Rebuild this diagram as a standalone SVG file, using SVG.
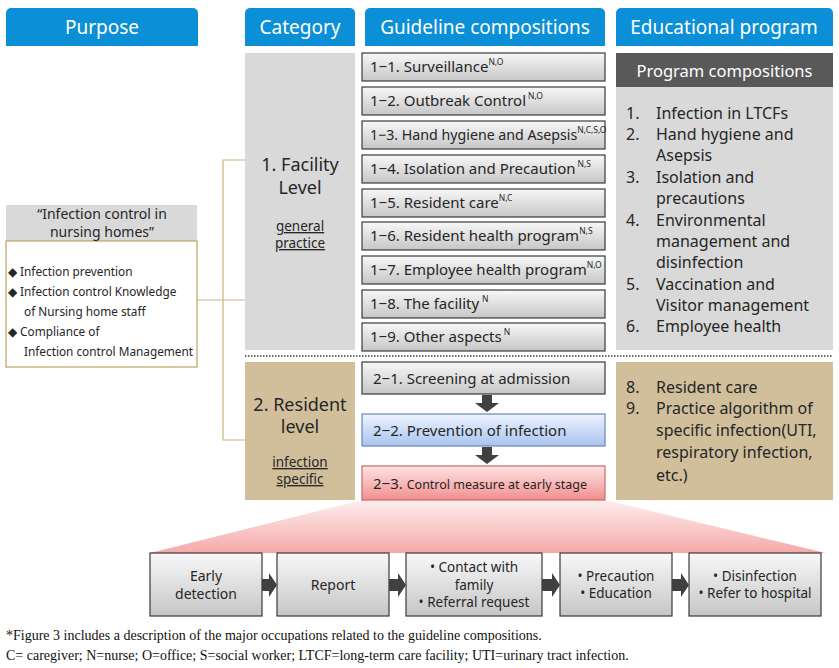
<svg xmlns="http://www.w3.org/2000/svg" width="839" height="668" viewBox="0 0 839 668">
<defs>
<linearGradient id="gGray" x1="0" y1="0" x2="0" y2="1"><stop offset="0" stop-color="#f8f8f8"/><stop offset="1" stop-color="#c6c6c6"/></linearGradient>
<linearGradient id="gBlue" x1="0" y1="0" x2="0" y2="1"><stop offset="0" stop-color="#eef3ff"/><stop offset="1" stop-color="#a9c3ee"/></linearGradient>
<linearGradient id="gPink" x1="0" y1="0" x2="0" y2="1"><stop offset="0" stop-color="#fde4e4"/><stop offset="1" stop-color="#f38e8e"/></linearGradient>
<linearGradient id="gFan" x1="0" y1="0" x2="0" y2="1"><stop offset="0" stop-color="#fdeeee"/><stop offset="1" stop-color="#f6a9a9"/></linearGradient>
<style>
.hdr{fill:#0b8fd6}
.ht{font-family:"Noto Sans",sans-serif;font-size:19px;fill:#fff;text-anchor:middle}
.s{font-family:"Noto Sans",sans-serif;fill:#262626}
.box{fill:url(#gGray);stroke:#3a3a3a;stroke-width:1.2}
.gl{font-size:15px}
.sup{font-size:8.5px}
.cat{font-size:18px;text-anchor:middle}
.u{font-size:13.5px;text-anchor:middle;text-decoration:underline}
.ed{font-size:16px}
.lb{font-size:11.8px}
.fl{font-size:14px;text-anchor:middle}
.fl2{font-size:13.5px;text-anchor:middle}
.conn{stroke:#c9b37f;stroke-width:1.2;fill:none}
.arr{fill:#404040}
.fn{font-family:"Liberation Serif",serif;font-size:14px;fill:#111}
</style>
</defs>
<rect width="839" height="668" fill="#fff"/>

<g id="headers">
<path class="hdr" d="M6 46V13a5 5 0 0 1 5-5h182a5 5 0 0 1 5 5v33z"/>
<text class="ht" x="102" y="34">Purpose</text>
<path class="hdr" d="M245 46V13a5 5 0 0 1 5-5h100a5 5 0 0 1 5 5v33z"/>
<text class="ht" x="300" y="34">Category</text>
<path class="hdr" d="M365 46V13a5 5 0 0 1 5-5h230a5 5 0 0 1 5 5v33z"/>
<text class="ht" x="485" y="34">Guideline compositions</text>
<path class="hdr" d="M616 46V13a5 5 0 0 1 5-5h207a5 5 0 0 1 5 5v33z"/>
<text class="ht" x="724" y="34">Educational program</text>
</g>

<g id="connectors">
<polyline class="conn" points="245,160 223,160 223,440 245,440"/>
<line class="conn" x1="197" y1="300" x2="245" y2="300"/>
<line x1="245" y1="356" x2="833" y2="356" stroke="#404040" stroke-width="1.5" stroke-dasharray="1.5 1.5"/>
</g>

<g id="purpose">
<rect x="6" y="205" width="191" height="36" fill="#d9d9d9"/>
<rect x="6" y="241" width="191" height="126" fill="#fff" stroke="#b9a462" stroke-width="1.2"/>
<text class="s" x="102" y="219" font-size="14" text-anchor="middle">“Infection control in</text>
<text class="s" x="102" y="237" font-size="14" text-anchor="middle">nursing homes”</text>
<text class="s lb" x="8" y="276">◆ Infection prevention</text>
<text class="s lb" x="8" y="296">◆ Infection control Knowledge</text>
<text class="s lb" x="24" y="316">of Nursing home staff</text>
<text class="s lb" x="8" y="336">◆ Compliance of</text>
<text class="s lb" x="24" y="356">Infection control Management</text>
</g>

<g id="cat-facility">
<rect x="245" y="53" width="110" height="297" fill="#d9d9d9"/>
<text class="s cat" x="300" y="171">1. Facility</text>
<text class="s cat" x="300" y="194">Level</text>
<text class="s u" x="300" y="231">general</text>
<text class="s u" x="300" y="248">practice</text>
</g>

<g id="cat-resident">
<rect x="245" y="362" width="110" height="138" fill="#d1bf9c"/>
<text class="s cat" x="300" y="411">2. Resident</text>
<text class="s cat" x="300" y="433">level</text>
<text class="s u" x="300" y="467">infection</text>
<text class="s u" x="300" y="484">specific</text>
</g>

<g id="g1-1"><rect class="box" x="362" y="53" width="243" height="28"/><text class="s gl" x="370" y="72">1−1. Surveillance<tspan class="sup" dy="-7">N,O</tspan></text></g>
<g id="g1-2"><rect class="box" x="362" y="87" width="243" height="28"/><text class="s gl" x="370" y="106">1−2. Outbreak Control<tspan class="sup" dy="-7" dx="2">N,O</tspan></text></g>
<g id="g1-3"><rect class="box" x="362" y="121" width="243" height="28"/><text class="s" font-size="14.2" x="370" y="140">1−3. Hand hygiene and Asepsis<tspan class="sup" dy="-7">N,C,S,O</tspan></text></g>
<g id="g1-4"><rect class="box" x="362" y="155" width="243" height="28"/><text class="s gl" x="370" y="174">1−4. Isolation and Precaution<tspan class="sup" dy="-7" dx="2">N,S</tspan></text></g>
<g id="g1-5"><rect class="box" x="362" y="189" width="243" height="28"/><text class="s gl" x="370" y="208">1−5. Resident care<tspan class="sup" dy="-7">N,C</tspan></text></g>
<g id="g1-6"><rect class="box" x="362" y="222" width="243" height="28"/><text class="s gl" x="370" y="241">1−6. Resident health program<tspan class="sup" dy="-7">N,S</tspan></text></g>
<g id="g1-7"><rect class="box" x="362" y="256" width="243" height="28"/><text class="s gl" x="370" y="275">1−7. Employee health program<tspan class="sup" dy="-7">N,O</tspan></text></g>
<g id="g1-8"><rect class="box" x="362" y="290" width="243" height="28"/><text class="s gl" x="370" y="309">1−8. The facility<tspan class="sup" dy="-7" dx="3">N</tspan></text></g>
<g id="g1-9"><rect class="box" x="362" y="323" width="243" height="28"/><text class="s gl" x="370" y="342">1−9. Other aspects<tspan class="sup" dy="-7" dx="2">N</tspan></text></g>

<g id="fan"><polygon points="362,500 605,500 826,553 150,553" fill="url(#gFan)"/></g>

<g id="g2-1"><rect class="box" x="362" y="362" width="243" height="32"/><text class="s" x="373" y="384" font-size="15">2−1. Screening at admission</text></g>
<g id="g2-2"><rect x="362" y="414" width="243" height="32" fill="url(#gBlue)" stroke="#6a86b8" stroke-width="1.2"/><text class="s" x="373" y="436" font-size="15">2−2. Prevention of infection</text></g>
<g id="g2-3"><rect x="362" y="466" width="243" height="34" fill="url(#gPink)" stroke="#c86a6a" stroke-width="1.2"/><text class="s" x="373" y="489" font-size="15">2−3. <tspan font-size="12.5">Control measure at early stage</tspan></text></g>

<g id="down-arrows">
<polygon class="arr" points="482,395 492,395 492,403 499,403 487,412 475,403 482,403"/>
<polygon class="arr" points="482,447 492,447 492,455 499,455 487,464 475,455 482,455"/>
</g>

<g id="edu-facility">
<rect x="616" y="53" width="217" height="297" fill="#d9d9d9"/>
<rect x="616" y="53" width="217" height="34" fill="#595959"/>
<text x="724.5" y="77" font-family="Noto Sans, sans-serif" font-size="16.5" text-anchor="middle" fill="#fff">Program compositions</text>
<g class="s ed">
<text x="626" y="119">1.</text><text x="656" y="119">Infection in LTCFs</text>
<text x="626" y="140">2.</text><text x="656" y="140">Hand hygiene and</text>
<text x="656" y="161">Asepsis</text>
<text x="626" y="183">3.</text><text x="656" y="183">Isolation and</text>
<text x="656" y="204">precautions</text>
<text x="626" y="226">4.</text><text x="656" y="226">Environmental</text>
<text x="656" y="247">management and</text>
<text x="656" y="268">disinfection</text>
<text x="626" y="290">5.</text><text x="656" y="290">Vaccination and</text>
<text x="656" y="311">Visitor management</text>
<text x="626" y="332">6.</text><text x="656" y="332">Employee health</text>
</g>
</g>

<g id="edu-resident">
<rect x="616" y="362" width="217" height="138" fill="#d1bf9c"/>
<g class="s ed">
<text x="626" y="393">8.</text><text x="656" y="393">Resident care</text>
<text x="626" y="414">9.</text><text x="656" y="414">Practice algorithm of</text>
<text x="656" y="436">specific infection(UTI,</text>
<text x="656" y="458">respiratory infection,</text>
<text x="656" y="481">etc.)</text>
</g>
</g>

<g id="f-early"><rect class="box" x="150" y="553" width="112" height="63"/><text class="s fl" x="206" y="581">Early</text><text class="s fl" x="206" y="599">detection</text></g>
<g id="f-report"><rect class="box" x="277" y="553" width="112" height="63"/><text class="s fl" x="333" y="590">Report</text></g>
<g id="f-contact"><rect class="box" x="406" y="553" width="136" height="63"/><text class="s fl2" x="474" y="572">• Contact with</text><text class="s fl2" x="474" y="589.5">family</text><text class="s fl2" x="474" y="607">• Referral request</text></g>
<g id="f-prec"><rect class="box" x="560" y="553" width="112" height="63"/><text class="s fl2" x="616" y="581">•  Precaution</text><text class="s fl2" x="616" y="598">•  Education</text></g>
<g id="f-dis"><rect class="box" x="689" y="553" width="132" height="63"/><text class="s fl2" x="755" y="581">• Disinfection</text><text class="s fl2" x="755" y="598">• Refer to hospital</text></g>

<g id="flow-arrows">
<polygon class="arr" points="262,579 269,579 269,573 277,585 269,597 269,591 262,591"/>
<polygon class="arr" points="389,579 398,579 398,573 406,585 398,597 398,591 389,591"/>
<polygon class="arr" points="542,579 552,579 552,573 560,585 552,597 552,591 542,591"/>
<polygon class="arr" points="672,579 681,579 681,573 689,585 681,597 681,591 672,591"/>
</g>

<g id="footnote">
<text class="fn" x="6" y="640">*Figure 3 includes a description of the major occupations related to the guideline compositions.</text>
<text class="fn" x="6" y="660">C= caregiver; N=nurse; O=office; S=social worker; LTCF=long-term care facility; UTI=urinary tract infection.</text>
</g>
</svg>
